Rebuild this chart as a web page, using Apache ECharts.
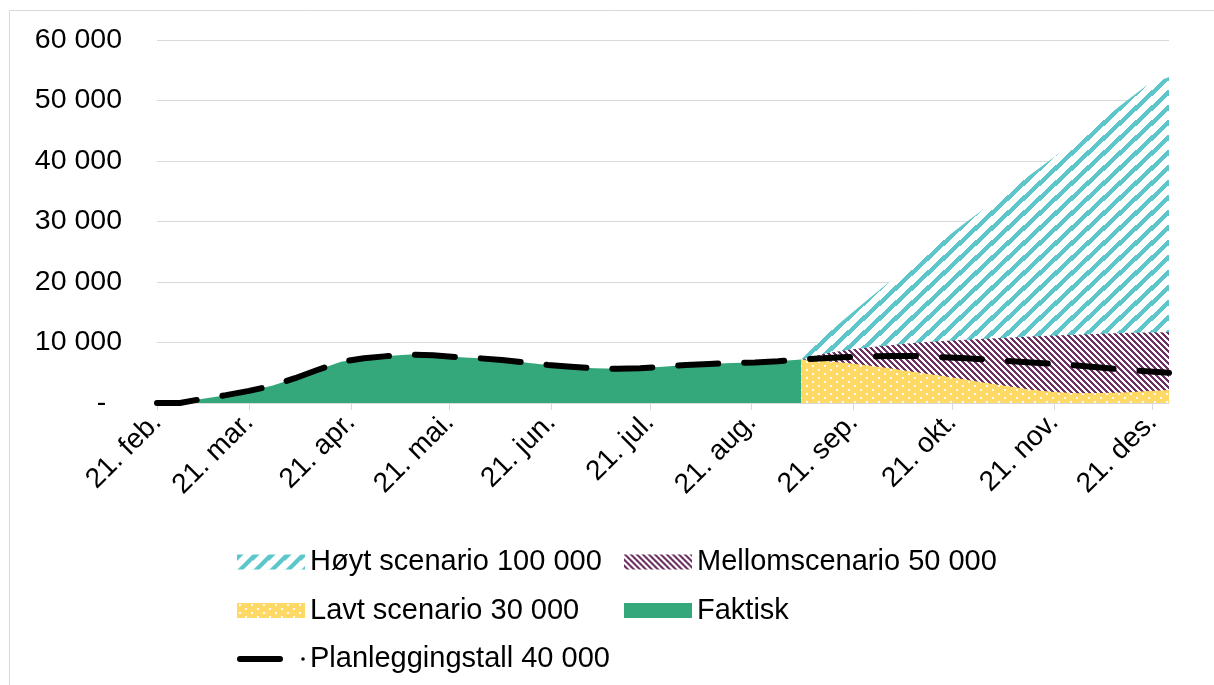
<!DOCTYPE html>
<html>
<head>
<meta charset="utf-8">
<script src="https://cdn.jsdelivr.net/npm/echarts@6/dist/echarts.min.js"></script>
<style>html,body{margin:0;padding:0;background:#fff}#c{width:1214px;height:685px}</style>
</head>
<body>
<div id="c"></div>
<script>
// x positions: days since 21. feb (weekly points)
const weekDays = [0,7,14,21,28,35,42,49,56,63,70,77,84,91,98,105,112,119,126,133,140,147,154,161,168,175,182,189,196,203,210,217,224,231,238,245,252,259,266,273,280,287,294,301,308];
const monthTickDays = [0,28,59,89,120,150,181,212,242,273,303];
const monthLabels = ['21. feb.','21. mar.','21. apr.','21. mai.','21. jun.','21. jul.','21. aug.','21. sep.','21. okt.','21. nov.','21. des.'];
const yTicks = [0,10000,20000,30000,40000,50000,60000];

// Faktisk (weeks 0..28)
const faktisk = [0,0,700,1300,2000,2850,4100,5500,6800,7400,7750,8000,7900,7600,7400,7100,6700,6300,6000,5750,5650,5750,6000,6300,6450,6600,6700,6900,7200];
// Planleggingstall 40 000 (weeks 0..44)
const plan = [0,0,700,1300,2000,2850,4100,5500,6800,7400,7750,8000,7900,7600,7400,7100,6700,6300,6000,5750,5650,5750,6000,6300,6450,6600,6700,6900,7200,
  7400,7600,7700,7750,7750,7600,7450,7200,6950,6700,6450,6200,5850,5500,5250,5000];
// Scenarios (weeks 28..44)
const lavt = [7200,6950,6600,6150,5650,5100,4550,3950,3350,2750,2200,1800,1600,1650,1750,1950,2150];
const mellom = [7200,8150,8750,9200,9600,9950,10200,10400,10600,10800,11000,11150,11300,11450,11550,11650,11700];
const hoyt = [7200,11000,14200,17400,20500,23500,26400,29400,32200,35000,37800,40600,43600,46500,49500,52400,53900];

const FONT = 'Liberation Sans, Arial, sans-serif';

function tile(w, h, bg, fg, test) {
  const c = document.createElement('canvas');
  c.width = w; c.height = h;
  const ctx = c.getContext('2d');
  ctx.fillStyle = bg; ctx.fillRect(0, 0, w, h);
  ctx.fillStyle = fg;
  for (let y = 0; y < h; y++) for (let x = 0; x < w; x++) if (test(x, y)) ctx.fillRect(x, y, 1, 1);
  return c;
}
const tealTile = tile(16, 15, '#ffffff', '#5cc6cb', (x, y) => {
  const f = ((x + 0.5) / 16 + (y + 0.5) / 15) % 1; return f < 0.4;
});
const purpleTile = tile(6, 6, '#ffffff', '#6e2f62', (x, y) => (((x - y) % 6) + 6) % 6 < 3);
const yellowTile = (function () {
  const c = document.createElement('canvas'); c.width = 12; c.height = 8;
  const ctx = c.getContext('2d');
  ctx.fillStyle = '#ffd966'; ctx.fillRect(0, 0, 12, 8);
  ctx.fillStyle = 'rgba(255,255,255,0.9)';
  ctx.fillRect(2, 1, 2, 2); ctx.fillRect(8, 5, 2, 2);
  return c;
})();
const tealPat = { image: tealTile, repeat: 'repeat' };
const purplePat = { image: purpleTile, repeat: 'repeat' };
const yellowPat = { image: yellowTile, repeat: 'repeat' };
const GREEN = '#34a77b';

const fromWeek = (start, arr) => arr.map((v, i) => [weekDays[start + i], v]);

const planIcon = 'path://M0,0M68,15M3,4.5L43,4.5A3,3,0,0,1,43,10.5L3,10.5A3,3,0,0,1,3,4.5ZM64.2,7.5A1.8,1.8,0,1,0,67.8,7.5A1.8,1.8,0,1,0,64.2,7.5Z';

const areaSeries = (name, data, fill) => ({
  name, type: 'line', data, symbol: 'none', silent: true,
  lineStyle: { width: 0 }, areaStyle: { color: fill, opacity: 1 }, itemStyle: { color: '#888' }
});

const legendBase = {
  orient: 'vertical', top: 547, itemWidth: 68, itemHeight: 15, itemGap: 18.5, padding: 0,
  selectedMode: false,
  textStyle: { fontSize: 29, fontFamily: FONT, color: '#000', lineHeight: 30 }
};

const chart = echarts.init(document.getElementById('c'), null, { renderer: 'canvas' });
chart.setOption({
  animation: false,
  backgroundColor: '#fff',
  graphic: [{ type: 'rect', z: -10, shape: { x: 9.5, y: 10.5, width: 1250, height: 720 },
    style: { fill: 'none', stroke: '#d9d9d9', lineWidth: 1 } }],
  grid: { left: 157, right: 45, top: 40, bottom: 282, containLabel: false },
  xAxis: {
    type: 'value', min: 0, max: 308,
    splitLine: { show: false },
    axisLine: { show: true, lineStyle: { color: '#d9d9d9', width: 1 } },
    axisTick: { show: true, customValues: monthTickDays, length: 7, lineStyle: { color: '#d9d9d9', width: 1 } },
    axisLabel: {
      customValues: monthTickDays, rotate: 45, margin: 15,
      fontSize: 28, fontFamily: FONT, color: '#000',
      formatter: v => monthLabels[monthTickDays.indexOf(v)] || ''
    }
  },
  yAxis: {
    type: 'value', min: yTicks[0], max: yTicks[yTicks.length - 1], interval: 10000,
    axisLine: { show: false }, axisTick: { show: false },
    splitLine: { lineStyle: { color: '#d9d9d9', width: 1 } },
    axisLabel: {
      margin: 35, fontSize: 28.5, fontFamily: FONT, color: '#000',
      formatter: v => v === 0 ? '-\u00a0\u00a0' : String(v).replace(/\B(?=(\d{3})+(?!\d))/g, ' ')
    }
  },
  legend: [
    Object.assign({}, legendBase, { left: 237, data: [
      { name: 'Høyt scenario 100 000', icon: 'rect', itemStyle: { color: tealPat, borderWidth: 0 } },
      { name: 'Lavt scenario 30 000', icon: 'rect', itemStyle: { color: yellowPat, borderWidth: 0 } },
      { name: 'Planleggingstall 40 000', icon: planIcon, itemStyle: { color: '#000', borderWidth: 0 } }
    ] }),
    Object.assign({}, legendBase, { left: 624, data: [
      { name: 'Mellomscenario 50 000', icon: 'rect', itemStyle: { color: purplePat, borderWidth: 0 } },
      { name: 'Faktisk', icon: 'rect', itemStyle: { color: GREEN, borderWidth: 0 } }
    ] })
  ],
  series: [
    areaSeries('Høyt scenario 100 000', fromWeek(28, hoyt), tealPat),
    areaSeries('Mellomscenario 50 000', fromWeek(28, mellom), purplePat),
    areaSeries('Lavt scenario 30 000', fromWeek(28, lavt), yellowPat),
    areaSeries('Faktisk', fromWeek(0, faktisk), GREEN),
    {
      name: 'Planleggingstall 40 000', type: 'line', data: fromWeek(0, plan), symbol: 'none', silent: true,
      itemStyle: { color: '#000' },
      lineStyle: { color: '#000', width: 6, type: [40, 26], cap: 'round', join: 'round' }
    }
  ]
});
</script>
</body>
</html>
